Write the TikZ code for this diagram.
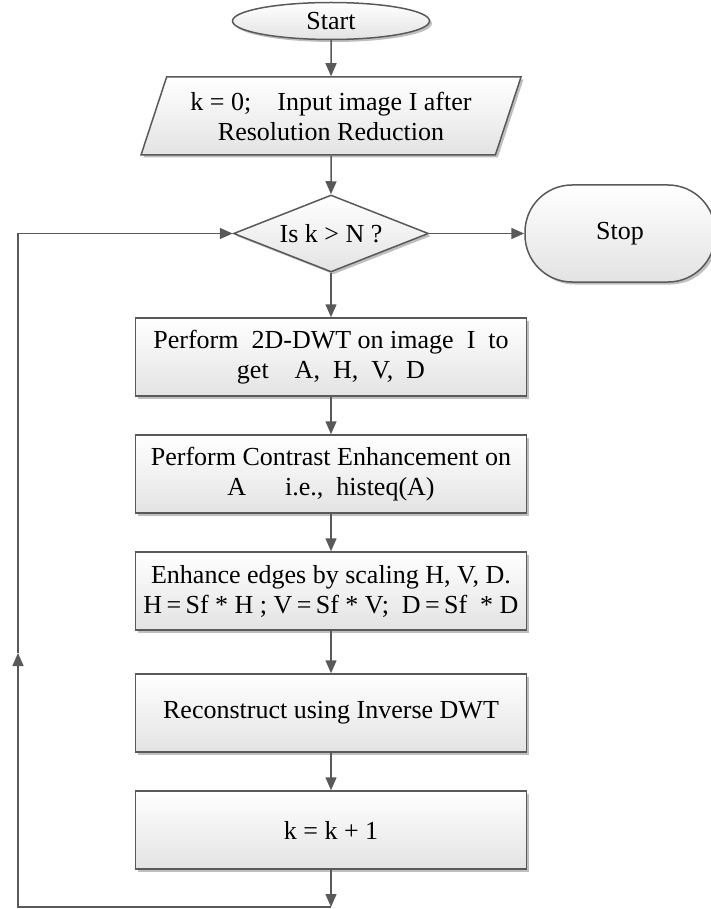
\documentclass[tikz,border=0pt]{standalone}
\usepackage{fontspec}
\setmainfont{Liberation Serif}
\usetikzlibrary{shapes.geometric,arrows.meta,shadows}

\definecolor{linegray}{HTML}{595959}

\begin{document}
\begin{tikzpicture}[x=1pt,y=-1pt,
  every node/.style={font=\fontsize{26}{30}\selectfont, text=black},
  block/.style={draw=linegray, line width=1.5pt, top color=white, bottom color=black!11,
    drop shadow={shadow xshift=2.5pt, shadow yshift=-2.5pt, opacity=0.25, fill=black}},
  procbox/.style={block, rectangle, minimum width=391pt, minimum height=78pt, align=center, inner sep=2pt},
  flow/.style={draw=linegray, line width=1.5pt, -{Triangle[length=13pt,width=11pt]}}]
  \useasboundingbox (0,0) rectangle (710,909);

  \coordinate (c_start) at (331,21);
  \coordinate (c_input) at (331,116);
  \coordinate (c_test) at (331,233.5);
  \coordinate (c_stop) at (620,233.5);
  \coordinate (c_dwt) at (331,357);
  \coordinate (c_contrast) at (331,474);
  \coordinate (c_edges) at (331,591);
  \coordinate (c_idwt) at (331,713);
  \coordinate (c_kinc) at (331,830);
  \coordinate (loop_bottom) at (331,907);
  \coordinate (loop_left) at (18,907);
  \coordinate (loop_mid) at (18,653);

  \node[block, ellipse, minimum width=197pt, minimum height=37pt, inner sep=0pt] (start) at (c_start) {Start};
  \node[block, trapezium, trapezium left angle=64, trapezium right angle=116, trapezium stretches body,
    minimum width=380pt, minimum height=78pt, align=center, inner sep=2pt] (input) at (c_input)
    {k = 0;\quad Input image I after\\Resolution Reduction};
  \node[block, diamond, aspect=2.5, minimum width=195pt, minimum height=77pt, inner sep=0pt] (test) at (c_test) {Is k > N ?};
  \node[block, rectangle, rounded corners=47pt, minimum width=190pt, minimum height=97pt] (stop) at (c_stop) {Stop};

  \node[procbox] (dwt) at (c_dwt) {Perform\ \ 2D-DWT on image\ \ I\ \ to\\get\quad A,\ \ H,\ \ V,\ \ D};
  \node[procbox] (contrast) at (c_contrast) {Perform Contrast Enhancement on\\A\quad\ \ i.e.,\ \ histeq(A)};
  \node[procbox] (edges) at (c_edges) {Enhance edges by scaling H, V, D.\\H\,=\,Sf * H ; V\,=\,Sf * V;\ \ D\,=\,Sf\ \ * D};
  \node[procbox] (idwt) at (c_idwt) {Reconstruct using Inverse DWT};
  \node[procbox] (k_inc) at (c_kinc) {k = k + 1};

  \draw[flow] (start.south) -- (input.north);
  \draw[flow] (input.south) -- (test.north);
  \draw[flow] (test.east) -- (stop.west);
  \draw[flow] (test.south) -- (dwt.north);
  \draw[flow] (dwt.south) -- (contrast.north);
  \draw[flow] (contrast.south) -- (edges.north);
  \draw[flow] (edges.south) -- (idwt.north);
  \draw[flow] (idwt.south) -- (k_inc.north);

  % loop back to the test
  \draw[flow] (k_inc.south) -- (loop_bottom);
  \draw[flow] (loop_bottom) -- (loop_left) -- (loop_mid);
  \draw[flow] (loop_mid) |- (test.west);
\end{tikzpicture}
\end{document}
